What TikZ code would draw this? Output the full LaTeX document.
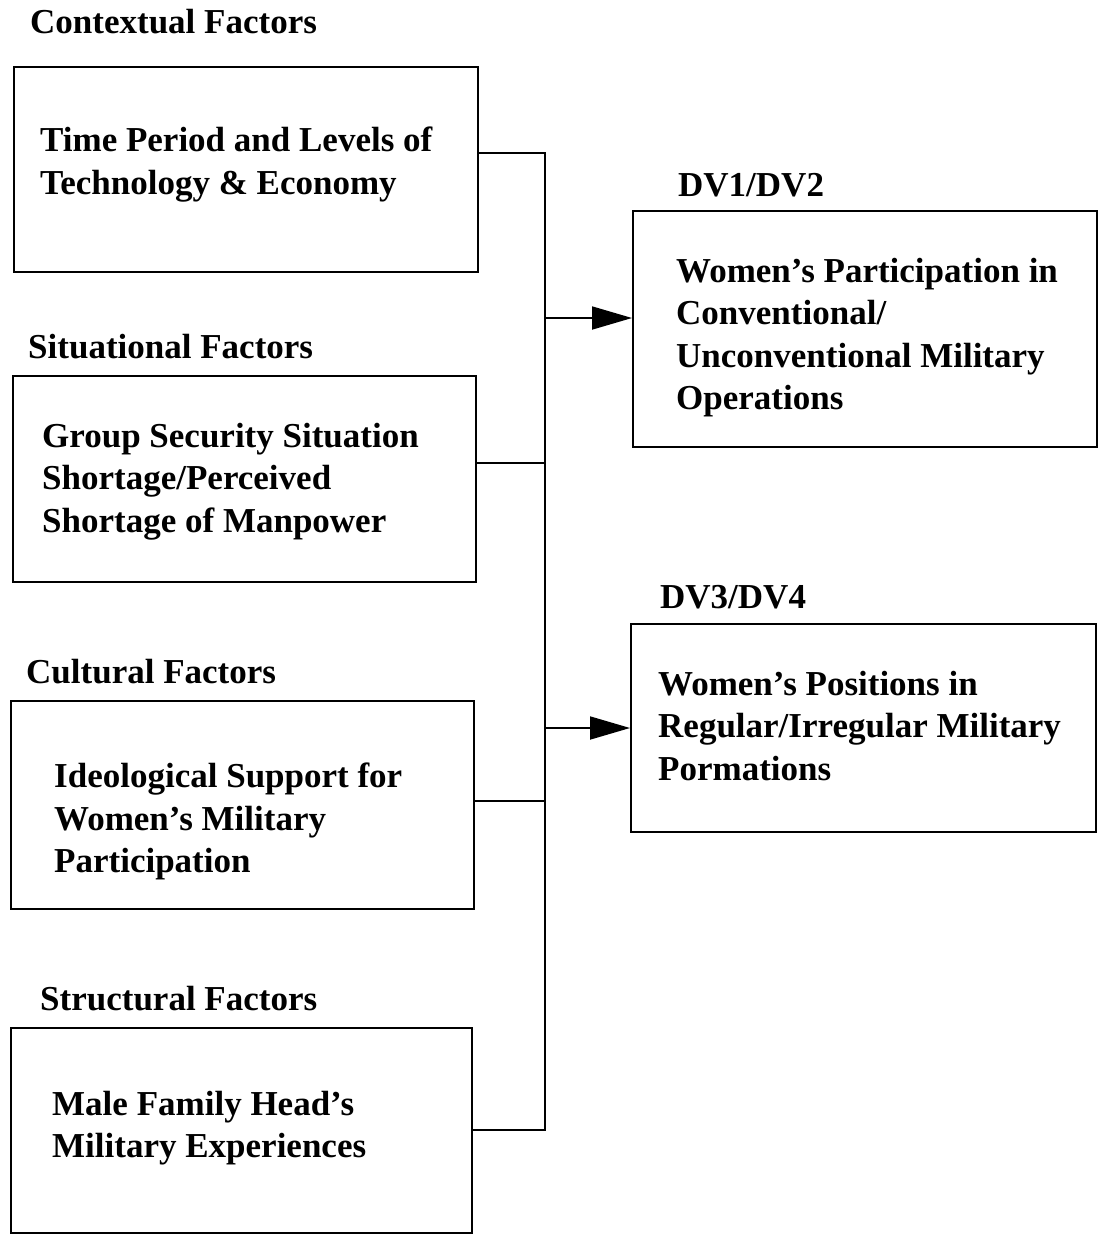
\documentclass[tikz,border=0pt]{standalone}
\usepackage{fontspec}
\setmainfont{Liberation Serif}
\usetikzlibrary{arrows.meta}
\begin{document}
\begin{tikzpicture}[x=1pt,y=-1pt,
  box/.style={draw=black, line width=1.8pt, anchor=north west, inner sep=0pt},
  txt/.style={anchor=north west, inner sep=0pt, align=left, font=\bfseries\fontsize{35}{42.5}\selectfont},
  lbl/.style={anchor=base west, inner sep=0pt, font=\bfseries\fontsize{35}{42.5}\selectfont},
  conn/.style={line width=1.8pt, line join=miter},
  arr/.style={line width=1.8pt, -{Triangle[length=40pt,width=23pt]}}]
\useasboundingbox (0,0) rectangle (1098,1235);
% boxes
\node[box, minimum width=464pt, minimum height=205pt] (c1) at (13,66) {};
\node[box, minimum width=463pt, minimum height=206pt] (c2) at (12,375) {};
\node[box, minimum width=463pt, minimum height=208pt] (c3) at (10,700) {};
\node[box, minimum width=461pt, minimum height=205pt] (c4) at (10,1027) {};
\node[box, minimum width=464pt, minimum height=236pt] (d1) at (632,210) {};
\node[box, minimum width=465pt, minimum height=208pt] (d2) at (630,623) {};
% labels
\node[lbl] (l1) at (30,33) {Contextual Factors};
\node[lbl] (l2) at (28,358) {Situational Factors};
\node[lbl] (l3) at (26,683) {Cultural Factors};
\node[lbl] (l4) at (40,1010) {Structural Factors};
\node[lbl] (l5) at (678,196) {DV1/DV2};
\node[lbl] (l6) at (660,608) {DV3/DV4};
% box texts
\node[txt] (t1) at (40,127) {Time Period and Levels of\\Technology \& Economy};
\node[txt] (t2) at (42,423) {Group Security Situation\\Shortage/Perceived\\Shortage of Manpower};
\node[txt] (t3) at (54,763) {Ideological Support for\\Women’s Military\\Participation};
\node[txt] (t4) at (52,1091) {Male Family Head’s\\Military Experiences};
\node[txt] (t5) at (676,258) {Women’s Participation in\\Conventional/\\Unconventional Military\\Operations};
\node[txt] (t6) at (658,671) {Women’s Positions in\\Regular/Irregular Military\\Pormations};
% bus coordinates
\coordinate (b1) at (545,153);
\coordinate (b2) at (545,463);
\coordinate (b3) at (545,801);
\coordinate (b4) at (545,1130);
\coordinate (a1) at (545,318);
\coordinate (a2) at (545,728);
% connectors
\draw[conn] (c1.east |- b1) -- (b1) -- (b4) -- (c4.east |- b4);
\draw[conn] (c2.east |- b2) -- (b2);
\draw[conn] (c3.east |- b3) -- (b3);
\draw[arr] (a1) -- (d1.west |- a1);
\draw[arr] (a2) -- (d2.west |- a2);
\end{tikzpicture}
\end{document}
